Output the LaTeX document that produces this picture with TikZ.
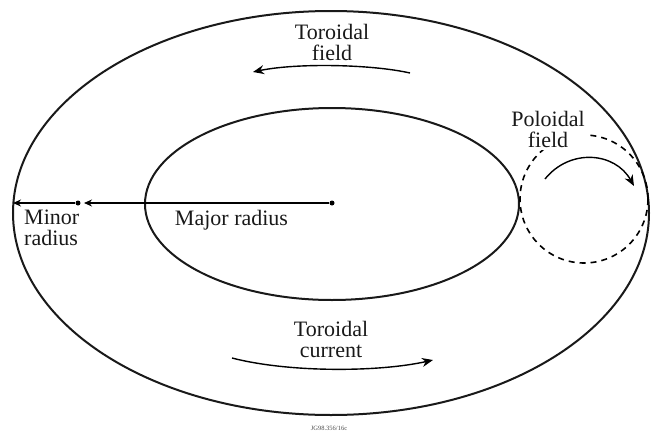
\documentclass[tikz,border=0pt]{standalone}
\usepackage{fontspec}
\setmainfont{Liberation Serif}
\usetikzlibrary{arrows.meta}
\begin{document}
\begin{tikzpicture}[x=1pt,y=-1pt,
  lbl/.style={font=\fontsize{22}{20.5}\selectfont, text=black!90, align=center, inner sep=0pt},
  thick line/.style={line width=2pt, black!90},
  arr/.style={line width=1.4pt, -{Stealth[length=11pt,width=9pt]}},
  dotc/.style={circle, fill=black, inner sep=0pt, minimum size=5pt}]
\useasboundingbox (0,0) rectangle (651,434);
% ellipses
\draw[thick line] (331,213) ellipse [x radius=318, y radius=202];
\draw[thick line] (332,204) ellipse [x radius=187, y radius=96];
% dashed poloidal circle
\draw[line width=1.6pt, dash pattern=on 6pt off 5pt] (584,199) circle [radius=64];
% radii
\node[dotc] (c) at (332,203) {};
\node[dotc] (m) at (78,203) {};
\coordinate (lo) at (13,203);
\coordinate (mi) at (84,203);
\draw[line width=1.3pt, -{Stealth[length=8pt,width=7pt]}] (c) -- (mi);
\draw[line width=1.3pt, -{Stealth[length=8pt,width=7pt]}] (m) -- (lo);
\node[lbl, align=left, anchor=west] (minr) at (24,228) {Minor\\radius};
\node[lbl, anchor=base] (majr) at (231.5,225) {Major radius};
% toroidal field
\node[lbl] (tf) at (332,42.5) {Toroidal\\field};
\coordinate (tf1) at (410,73);
\coordinate (tf2) at (253,72);
\draw[arr] (tf1) .. controls (370,64) and (295,63) .. (tf2);
% poloidal field
\node[lbl, fill=white, inner sep=3pt] (pf) at (548,129.5) {Poloidal\\field};
\coordinate (pf1) at (545,179);
\coordinate (pf2) at (634,186);
\draw[arr] (pf1) .. controls (570,148) and (615,152) .. (pf2);
% toroidal current
\node[lbl] (tc) at (331,339.5) {Toroidal\\current};
\coordinate (tc1) at (232,358);
\coordinate (tc2) at (433,360);
\draw[arr] (tc1) .. controls (290,373) and (380,372) .. (tc2);
% id
\node[font=\fontsize{6.5}{7}\selectfont, text=black!70, inner sep=0pt] (id) at (329,428) {JG98.356/16c};
\end{tikzpicture}
\end{document}
